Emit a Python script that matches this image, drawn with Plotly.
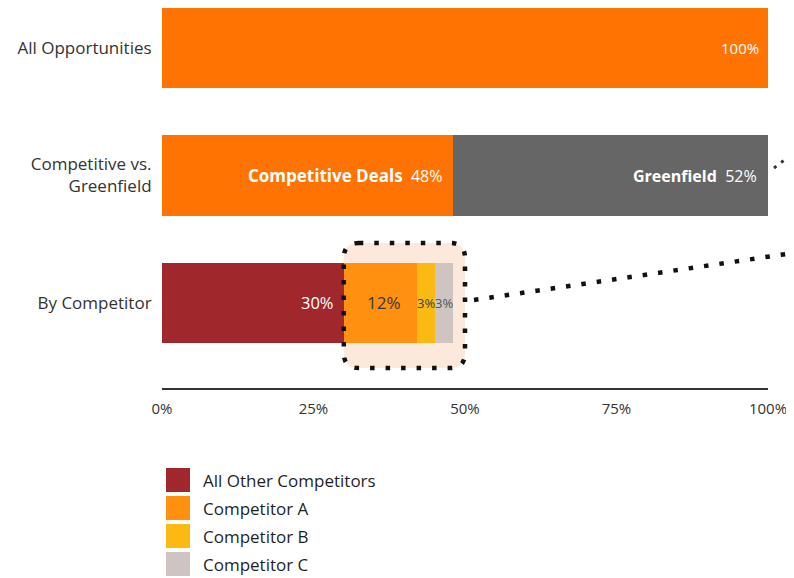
import plotly.graph_objects as go

# ---------------- data ----------------
rows = ["All Opportunities", "Competitive vs.<br>Greenfield", "By Competitor"]
all_opps = [100]
competitive = [48]
greenfield = [52]
comp_names = ["All Other Competitors", "Competitor A", "Competitor B", "Competitor C"]
comp_values = [30, 12, 3, 3]
comp_labels = ["30%", "12%", "3%", "3%"]
x_ticks = [0, 25, 50, 75, 100]
x_tick_text = ["0%", "25%", "50%", "75%", "100%"]

ORANGE = "#FF7303"
GREY = "#666666"
comp_colors = ["#A0282D", "#FF9010", "#FBBA12", "#CEC4C1"]
comp_text_colors = ["white", "#3a3a3a", "#3a3a3a", "#555555"]
comp_text_sizes = [16.5, 17, 13, 13]

FONT = "Open Sans, Liberation Sans, Arial, sans-serif"

# the page places the figure 8px in from the top-left corner
OFF = 8
W, H = 794 - OFF, 578 - OFF
L, R, T, B = 154, 26, 0, 190
PW, PH = W - L - R, H - T - B


def px_x(p):
    return (p - OFF - L) / PW


def px_y(p):
    return (T + PH - (p - OFF)) / PH


fig = go.Figure()
bw = 0.63

fig.add_trace(go.Bar(y=[rows[0]], x=all_opps, orientation="h", marker_color=ORANGE,
                     width=bw, showlegend=False, hoverinfo="skip", marker_line_width=0))
fig.add_trace(go.Bar(y=[rows[1]], x=competitive, orientation="h", marker_color=ORANGE,
                     width=bw, showlegend=False, hoverinfo="skip", marker_line_width=0))
fig.add_trace(go.Bar(y=[rows[1]], x=greenfield, orientation="h", marker_color=GREY,
                     width=bw, showlegend=False, hoverinfo="skip", marker_line_width=0))
for name, v, c in zip(comp_names, comp_values, comp_colors):
    fig.add_trace(go.Bar(y=[rows[2]], x=[v], orientation="h", marker_color=c, name=name,
                         width=bw, showlegend=False, hoverinfo="skip", marker_line_width=0))

annotations = []
annotations.append(dict(x=all_opps[0], y=rows[0], xref="x", yref="y", text=f"{all_opps[0]}%",
                        xanchor="right", xshift=-7, showarrow=False,
                        font=dict(family=FONT, size=15, color="white")))
annotations.append(dict(x=competitive[0], y=rows[1], xref="x", yref="y",
                        text=f"<b><span style='font-size:17px'>Competitive Deals</span></b>&nbsp;&nbsp;{competitive[0]}%",
                        xanchor="right", xshift=-8, showarrow=False,
                        font=dict(family=FONT, size=16, color="white")))
annotations.append(dict(x=competitive[0] + greenfield[0], y=rows[1], xref="x", yref="y",
                        text=f"<b>Greenfield</b>&nbsp;&nbsp;{greenfield[0]}%",
                        xanchor="right", xshift=-9, showarrow=False,
                        font=dict(family=FONT, size=16, color="white")))
cum = 0
for i, (v, lab) in enumerate(zip(comp_values, comp_labels)):
    if i == 0:
        annotations.append(dict(x=cum + v, y=rows[2], xref="x", yref="y", text=lab,
                                xanchor="right", xshift=-8, showarrow=False,
                                font=dict(family=FONT, size=comp_text_sizes[i], color=comp_text_colors[i])))
    else:
        annotations.append(dict(x=cum + v / 2, y=rows[2], xref="x", yref="y", text=lab,
                                xanchor="center", xshift=(4 if i == 1 else 0), showarrow=False,
                                font=dict(family=FONT, size=comp_text_sizes[i], color=comp_text_colors[i])))
    cum += v

shapes = []
bx0 = comp_values[0]
bx1 = 50
by0, by1 = px_y(368), px_y(243)
rx = 15 / PW * 100
ry = 15 / PH
box_path = (f"M {bx0 + rx},{by1} L {bx1 - rx},{by1} Q {bx1},{by1} {bx1},{by1 - ry} "
            f"L {bx1},{by0 + ry} Q {bx1},{by0} {bx1 - rx},{by0} "
            f"L {bx0 + rx},{by0} Q {bx0},{by0} {bx0},{by0 + ry} "
            f"L {bx0},{by1 - ry} Q {bx0},{by1} {bx0 + rx},{by1} Z")
shapes.append(dict(type="path", path=box_path, xref="x", yref="paper", layer="below",
                   fillcolor="#FDE8DC", line=dict(width=0)))
shapes.append(dict(type="path", path=box_path, xref="x", yref="paper", layer="above",
                   fillcolor="rgba(0,0,0,0)", line=dict(color="#111111", width=4.5, dash="4.5px,11px")))
shapes.append(dict(type="line", xref="paper", yref="paper",
                   x0=px_x(474), y0=px_y(300), x1=px_x(800), y1=px_y(252),
                   line=dict(color="#111111", width=4.5, dash="4.5px,11px")))
shapes.append(dict(type="line", xref="paper", yref="paper",
                   x0=px_x(774), y0=px_y(168), x1=px_x(800), y1=px_y(148),
                   line=dict(color="#333333", width=3, dash="3px,6px")))

for i, (name, c) in enumerate(zip(comp_names, comp_colors)):
    cy = 480 + i * 28
    shapes.append(dict(type="rect", xref="paper", yref="paper",
                       x0=px_x(166), x1=px_x(190), y0=px_y(cy + 12), y1=px_y(cy - 12),
                       fillcolor=c, line=dict(width=0)))
    annotations.append(dict(x=px_x(201), y=px_y(cy), xref="paper", yref="paper", text=name,
                            xanchor="left", yanchor="middle", showarrow=False,
                            font=dict(family=FONT, size=17, color="#1f1f1f")))

fig.update_layout(
    width=W, height=H,
    margin=dict(l=L, r=R, t=T, b=B),
    barmode="stack",
    plot_bgcolor="white", paper_bgcolor="white",
    font=dict(family=FONT, size=15, color="#333333"),
    shapes=shapes, annotations=annotations,
    xaxis=dict(range=[0, 100], tickvals=x_ticks, ticktext=x_tick_text, showgrid=False,
               zeroline=False, showline=True, linecolor="#333333", linewidth=2,
               ticks="outside", ticklen=6, tickcolor="rgba(0,0,0,0)",
               tickfont=dict(family=FONT, size=15, color="#333333")),
    yaxis=dict(type="category", categoryarray=rows, range=[2.667, -0.314], showgrid=False,
               zeroline=False, showline=False, ticks="outside", ticklen=6,
               tickcolor="rgba(0,0,0,0)",
               tickfont=dict(family=FONT, size=17, color="#333333")),
)

fig.write_html("out.html")
